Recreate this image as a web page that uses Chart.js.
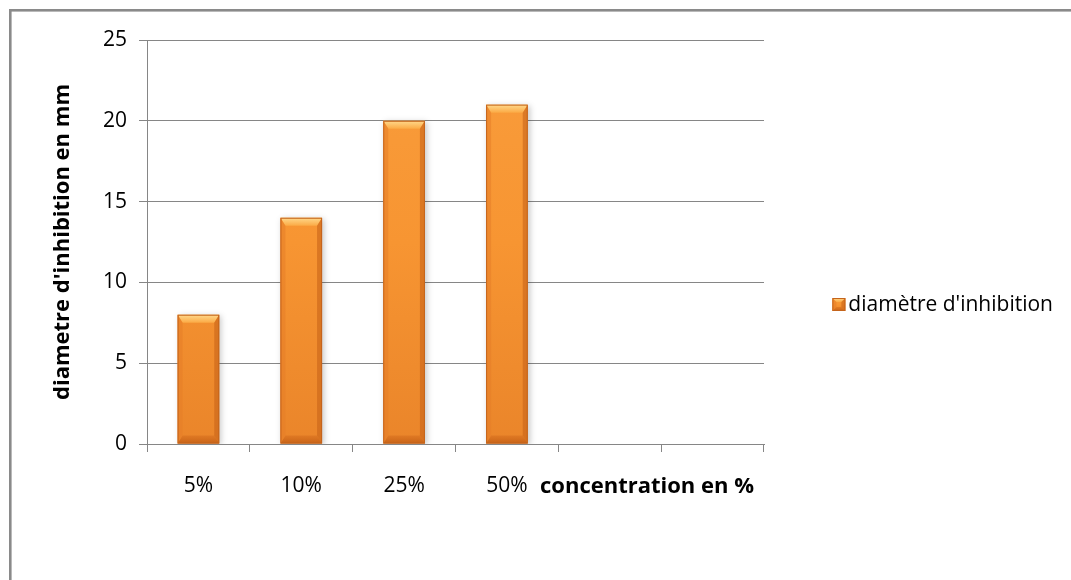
<!DOCTYPE html>
<html>
<head>
<meta charset="utf-8">
<script src="https://cdn.jsdelivr.net/npm/chart.js@4.4.1/dist/chart.umd.min.js"></script>
<style>
  html, body { margin: 0; padding: 0; background: #ffffff; }
  #wrap { width: 1071px; height: 580px; position: relative; }
</style>
</head>
<body>
<div id="wrap"><canvas id="chart" width="1071" height="580"></canvas></div>
<script>
// Inhibition zone diameter by extract concentration
const categories = ['5%', '10%', '25%', '50%', '', ''];
const inhibition = [8, 14, 20, 21, null, null];
const yTickMin = 0;
const yTickMax = 25;
const yTickStep = 5;

const seriesName = "diamètre d'inhibition";
const yTitle = "diametre d'inhibition en mm";
const xTitle = 'concentration en %';

const FONT = "'Open Sans', 'DejaVu Sans', sans-serif";
const AXIS_GREY = '#868686';

// Bevelled orange block, used for both the bars and the legend key
function drawBevel(ctx, l, t, r, b, depth, side) {
  const d = Math.min(depth, (b - t) / 2);
  const s = Math.min(side, (r - l) / 2);
  ctx.save();
  // top bevel (light)
  let g = ctx.createLinearGradient(0, t, 0, t + d);
  g.addColorStop(0, '#ffd98c');
  g.addColorStop(1, '#fbaa45');
  ctx.fillStyle = g;
  ctx.beginPath();
  ctx.moveTo(l, t); ctx.lineTo(r, t); ctx.lineTo(r - s, t + d); ctx.lineTo(l + s, t + d); ctx.closePath();
  ctx.fill();
  // bottom bevel (dark)
  g = ctx.createLinearGradient(0, b - d, 0, b);
  g.addColorStop(0, 'rgba(214,110,30,0.55)');
  g.addColorStop(1, 'rgba(196,96,22,0.95)');
  ctx.fillStyle = g;
  ctx.beginPath();
  ctx.moveTo(l, b); ctx.lineTo(r, b); ctx.lineTo(r - s, b - d); ctx.lineTo(l + s, b - d); ctx.closePath();
  ctx.fill();
  // left side
  ctx.fillStyle = 'rgba(230,125,40,0.55)';
  ctx.beginPath();
  ctx.moveTo(l, t); ctx.lineTo(l + s, t + d); ctx.lineTo(l + s, b - d); ctx.lineTo(l, b); ctx.closePath();
  ctx.fill();
  // right side
  ctx.fillStyle = 'rgba(200,100,25,0.6)';
  ctx.beginPath();
  ctx.moveTo(r, t); ctx.lineTo(r - s, t + d); ctx.lineTo(r - s, b - d); ctx.lineTo(r, b); ctx.closePath();
  ctx.fill();
  // outline
  ctx.strokeStyle = '#c4641c';
  ctx.lineWidth = 1;
  ctx.strokeRect(l + 0.5, t + 0.5, r - l - 1, b - t - 1);
  ctx.restore();
}

function bodyFill(ctx, t, b) {
  const g = ctx.createLinearGradient(0, t, 0, b);
  g.addColorStop(0, '#f99d3c');
  g.addColorStop(0.5, '#f79532');
  g.addColorStop(1, '#ea852a');
  return g;
}

const framePlugin = {
  id: 'frame',
  beforeDraw(chart) {
    const ctx = chart.ctx;
    ctx.save();
    ctx.fillStyle = '#ffffff';
    ctx.fillRect(0, 0, chart.width, chart.height);
    ctx.strokeStyle = '#8a8a8a';
    ctx.lineWidth = 2.6;
    ctx.strokeRect(10.3, 10.3, chart.width + 40, chart.height + 40);
    ctx.restore();
  }
};

const barStylePlugin = {
  id: 'barStyle',
  beforeDatasetsDraw(chart) {
    const ctx = chart.ctx;
    ctx.save();
    ctx.shadowColor = 'rgba(0,0,0,0.22)';
    ctx.shadowBlur = 6;
    ctx.shadowOffsetX = 2;
    ctx.shadowOffsetY = 1;
  },
  afterDatasetsDraw(chart) {
    const ctx = chart.ctx;
    ctx.restore();
    const meta = chart.getDatasetMeta(0);
    meta.data.forEach((bar, i) => {
      if (inhibition[i] == null) return;
      const p = bar.getProps(['x', 'y', 'base', 'width'], true);
      drawBevel(ctx, p.x - p.width / 2, p.y, p.x + p.width / 2, p.base, 8, 5);
    });
  }
};

const labelsPlugin = {
  id: 'axisTitlesAndLegend',
  afterDraw(chart) {
    const ctx = chart.ctx;
    const area = chart.chartArea;
    ctx.save();
    ctx.fillStyle = '#000000';
    // y title
    ctx.font = 'bold 22px ' + FONT;
    ctx.textAlign = 'center';
    ctx.textBaseline = 'alphabetic';
    ctx.save();
    ctx.translate(69, (area.top + area.bottom) / 2);
    ctx.rotate(-Math.PI / 2);
    ctx.fillText(yTitle, 0, 0);
    ctx.restore();
    // x title
    ctx.textAlign = 'left';
    ctx.fillText(xTitle, 540, 493);
    // legend
    ctx.font = '21px ' + FONT;
    ctx.textAlign = 'right';
    const tw = ctx.measureText(seriesName).width;
    ctx.fillText(seriesName, 1053, 311);
    const kx = 1053 - tw - 16;
    const ky = 298;
    ctx.fillStyle = bodyFill(ctx, ky, ky + 13);
    ctx.fillRect(kx, ky, 13, 13);
    drawBevel(ctx, kx, ky, kx + 13, ky + 13, 4, 4);
    ctx.restore();
  }
};

new Chart(document.getElementById('chart'), {
  type: 'bar',
  data: {
    labels: categories,
    datasets: [{
      label: seriesName,
      data: inhibition,
      backgroundColor(c) {
        const a = c.chart.chartArea;
        if (!a) return '#f79532';
        return bodyFill(c.chart.ctx, a.top, a.bottom);
      },
      borderWidth: 0,
      barPercentage: 0.405,
      categoryPercentage: 1.0
    }]
  },
  options: {
    responsive: false,
    animation: false,
    events: [],
    layout: { padding: { left: 0, top: 40, right: 307, bottom: 0 } },
    plugins: {
      legend: { display: false },
      tooltip: { enabled: false },
      title: { display: false }
    },
    scales: {
      x: {
        offset: true,
        grid: {
          display: true,
          offset: true,
          drawOnChartArea: false,
          drawTicks: true,
          tickLength: 8,
          color: AXIS_GREY,
          lineWidth: 1
        },
        border: { display: true, color: AXIS_GREY, width: 1 },
        ticks: {
          color: '#000000',
          font: { family: FONT, size: 21 },
          padding: 21,
          maxRotation: 0,
          autoSkip: false
        },
        afterFit(scale) { scale.height = 136; }
      },
      y: {
        min: yTickMin,
        max: yTickMax,
        ticks: {
          stepSize: yTickStep,
          color: '#000000',
          font: { family: FONT, size: 21 },
          padding: 12
        },
        grid: {
          color: AXIS_GREY,
          lineWidth: 1,
          tickLength: 8,
          drawTicks: true
        },
        border: { display: true, color: AXIS_GREY, width: 1 },
        afterFit(scale) { scale.width = 147; }
      }
    }
  },
  plugins: [framePlugin, barStylePlugin, labelsPlugin]
});
</script>
</body>
</html>
